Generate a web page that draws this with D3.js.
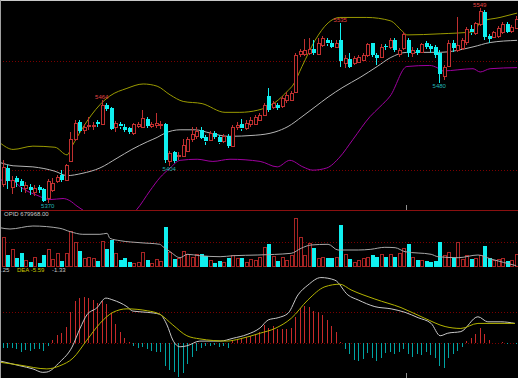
<!DOCTYPE html>
<html>
<head>
<meta charset="utf-8">
<script src="https://cdn.jsdelivr.net/npm/d3@7"></script>
<style>
html, body { margin: 0; padding: 0; background: #000; }
svg { display: block; }
</style>
</head>
<body>
<div id="chart"></div>
<script>
// ---- price bars (futures daily K line) ----
var opens  = [5387,5402,5385,5393,5390,5383,5385,5380,5385,5383,5374,5382,5390,5396,5391,5409,5428,5444,5437,5440,
              5440,5444,5443,5460,5457,5439,5442,5440,5439,5434,5440,5440,5447,5440,5441,5442,5442,5409,5417,5413,
              5413,5418,5428,5431,5437,5430,5428,5434,5430,5426,5431,5423,5439,5442,5438,5442,5443,5446,5451,5468,
              5458,5460,5459,5464,5465,5472,5506,5506,5507,5511,5507,5515,5519,5517,5513,5519,5498,5502,5498,5499,
              5501,5506,5517,5506,5504,5514,5513,5519,5506,5512,5519,5507,5510,5509,5517,5514,5513,5507,5487,5496,
              5517,5510,5512,5517,5529,5526,5534,5545,5523,5522,5523,5527,5534,5527,5531];
var closes = [5403,5390,5391,5389,5385,5386,5382,5384,5382,5372,5390,5388,5394,5391,5405,5429,5443,5436,5440,5441,
              5441,5442,5460,5456,5438,5443,5440,5437,5435,5442,5442,5448,5441,5442,5443,5442,5409,5416,5409,5414,
              5423,5429,5433,5436,5430,5426,5434,5430,5425,5431,5422,5440,5441,5438,5443,5446,5449,5451,5460,5455,
              5462,5457,5466,5469,5471,5506,5509,5510,5511,5507,5517,5521,5516,5513,5517,5500,5503,5495,5503,5504,
              5506,5516,5506,5503,5513,5513,5519,5510,5510,5525,5507,5510,5507,5516,5513,5511,5506,5488,5495,5517,
              5512,5515,5519,5529,5526,5535,5546,5522,5520,5527,5530,5534,5527,5531,5539];
var highs  = [5409,5405,5395,5395,5392,5389,5387,5386,5386,5384,5392,5393,5396,5400,5406,5435,5446,5446,5442,5449,
              5444,5446,5464,5462,5458,5445,5444,5442,5440,5443,5444,5455,5449,5444,5452,5445,5443,5418,5418,5417,
              5429,5430,5440,5440,5440,5432,5436,5436,5432,5433,5433,5441,5444,5447,5446,5449,5451,5452,5462,5475,
              5463,5462,5468,5472,5473,5507,5511,5520,5521,5519,5521,5523,5521,5519,5519,5535,5506,5507,5505,5506,
              5507,5517,5517,5507,5516,5516,5521,5521,5512,5527,5521,5513,5512,5517,5518,5516,5515,5510,5496,5519,
              5519,5540,5521,5531,5533,5536,5549,5547,5525,5528,5532,5536,5536,5533,5541];
var lows   = [5385,5383,5378,5385,5380,5379,5377,5376,5379,5371,5370,5380,5388,5389,5390,5408,5427,5434,5433,5437,
              5437,5440,5442,5454,5437,5435,5438,5435,5433,5432,5439,5439,5439,5439,5439,5438,5407,5404,5407,5409,
              5412,5417,5426,5429,5429,5423,5427,5429,5424,5425,5420,5422,5437,5436,5437,5440,5442,5445,5450,5453,
              5456,5455,5457,5462,5464,5471,5504,5505,5506,5506,5506,5513,5514,5512,5512,5495,5494,5494,5496,5498,
              5500,5504,5504,5496,5503,5510,5511,5508,5504,5510,5504,5504,5506,5507,5511,5507,5503,5480,5483,5495,
              5508,5508,5510,5515,5524,5524,5532,5519,5517,5521,5521,5525,5526,5526,5529];

// volume, thousand lots
var volumes = [29,11.3,17,8,13,6.3,4,9,3,11.3,17,7.3,13,5.3,13,35.3,24,15.3,8,9.6,
               8,5.3,25.3,17.3,26.6,13,6.3,8.6,4,3,4,14.6,6.3,3,7.3,5.3,39.6,14,7.3,8.6,
               15.3,12,9.6,12,12,10.3,6.3,3,5.3,4,8.6,11.3,8.6,8,4,7.3,6.3,9.6,19,22,
               10.3,5.3,9.6,6.3,11.3,48,29,11.3,23,18.6,8.6,9.6,8,8,9.6,41.3,12,7.3,4.6,6.3,
               8.6,9.6,11.3,9.6,12,9.6,12,9.6,13,18.6,22,9.6,6.3,6.3,5.3,4.6,5.3,24,11.3,14.6,
               8.6,24,7.3,11.3,7.3,8,11.3,20.6,8,6.3,7.3,8,5.3,6.3,12];

// MACD histogram
var macdHist = [-1.4,-1.4,-1.6,-1.8,-2.6,-2.1,-2.4,-1.8,-1.8,-2.4,-0.7,1.0,2.6,3.2,5.3,9.8,13.4,14.4,14.7,14.4,
                13.7,12.7,13.4,12.3,9.5,6.0,3.5,1.8,0.3,-0.7,-1.4,-1.1,-1.8,-2.4,-2.8,-2.6,-7.1,-8.4,-9.2,-10.6,
                -9.5,-6.6,-4.2,-2.4,-1.6,-0.7,-0.7,-0.5,-1.1,-0.7,-1.4,1.0,1.4,1.8,2.1,2.4,2.8,3.5,5.8,4.9,
                5.6,4.5,4.5,4.5,4.7,8.4,11.1,11.9,11.6,10.2,9.8,9.0,7.4,5.6,3.7,0.3,-1.8,-3.5,-5.3,-5.6,
                -5.0,-3.2,-4.5,-5.6,-4.5,-3.2,-2.6,-3.5,-2.8,-1.8,-3.5,-4.2,-3.5,-3.7,-2.8,-3.7,-4.5,-7.1,-7.7,-4.7,
                -3.5,-2.4,-1.1,0.7,1.6,2.8,4.9,2.8,1.0,0.1,0.2,0.3,-0.2,0.2,-0.3];

// line studies: [bar position, value]
var bollUpper = [[-0.6,5425],[2.3,5419],[6.7,5422],[11.6,5421],[14.3,5414],[15.4,5422],[17.8,5439],[21.6,5460],
                 [23.8,5468],[27.6,5475],[31.2,5479],[34.3,5477],[37.2,5469],[40.1,5463],[44.3,5461],[49.4,5453],
                 [52.7,5453],[56.7,5455],[60.5,5462],[63.4,5473],[64.5,5478],[66.5,5495],[69.4,5519],[72.3,5535],
                 [74.9,5540],[80.9,5540],[86.1,5537],[88.9,5527],[89.8,5524],[97.2,5525],[104.9,5527],[106.1,5536],
                 [110.5,5540],[114.3,5544]];
var bollMid   = [[-0.6,5407],[2.3,5404],[6.7,5403],[11.6,5399],[14.3,5395],[17.6,5397],[21.6,5402],[25.4,5411],
                 [28.7,5419],[32.1,5426],[34.3,5430],[36.1,5434],[39.4,5437],[42.7,5437],[46.1,5434],[50.1,5431],
                 [56.1,5432],[60.5,5435],[63.4,5440],[66.5,5449],[69.4,5458],[72.3,5467],[75.6,5476],[79.4,5485],
                 [83.2,5495],[86.1,5503],[89.8,5508],[97.2,5508],[104.5,5513],[108.3,5517],[114.3,5519]];
var bollLower = [[-0.6,5391],[2.3,5390],[3.8,5385],[4.9,5382],[7.6,5377],[10.5,5373],[13.4,5374],[14.9,5372],
                 [16.5,5367],[18.3,5362],[22.7,5352],[26.1,5352],[29.8,5364],[32.7,5381],[34.9,5393],[37.2,5402],
                 [39.4,5409],[43.2,5410],[46.7,5408],[50.5,5410],[57.2,5408],[61,5403],[63.8,5409],[66.7,5403],
                 [68.9,5400],[72,5402],[74.9,5412],[77.8,5428],[81.6,5449],[83.8,5458],[86.1,5468],[89.8,5495],
                 [94.9,5496],[96.5,5494],[97.8,5491],[104.5,5493],[106.1,5490],[108.3,5493],[114.3,5494]];
var openInterest = [[-0.6,698950],[1.6,698300],[6.7,699800],[12.7,698650],[15,696950],[17.8,695650],[21.6,695650],
                    [23.2,696150],[23.8,693650],[26.1,692450],[30.5,691450],[34.9,690650],[35.6,689450],[37.2,686950],
                    [39.4,683950],[41,685650],[43.8,684950],[48.3,684450],[51.2,684950],[56.7,685300],[64.1,686150],
                    [66.3,688650],[68.5,690300],[72.3,690650],[74.5,687800],[79,687800],[81.8,688150],[84.9,689150],
                    [87.2,688950],[89.4,686950],[95.2,685650],[96.7,684450],[101.2,683950],[105.6,685300],
                    [108.5,683300],[114.1,679968]];
var dif = [[-0.6,-5.6],[3.8,-7.1],[6.7,-8.1],[8.9,-9.2],[9.8,-9.1],[12.7,-5.9],[15.4,-1.2],[17.2,4.8],[18.7,9.0],
           [20.9,11.2],[22.9,14.3],[24.5,13.7],[27.6,11.6],[28.9,10.2],[32.1,9.8],[34.9,9.2],[36.5,5.8],[37.8,1.0],
           [39.4,-1.1],[40.9,-0.8],[43.8,0.7],[48.3,0.7],[51.2,1.6],[54.3,2.8],[57.2,4.9],[59,7.4],[61.2,8.1],
           [63.4,9.5],[65.6,15.3],[67.8,18.4],[70.7,20.8],[73.8,20.0],[76.7,15.3],[79,13.7],[82.7,11.6],[86.3,10.9],
           [89.4,9.8],[92.3,8.1],[95.2,6.3],[97.2,2.4],[98.9,3.2],[101.8,3.7],[105.6,8.4],[107.8,6.8],[110.7,6.8],
           [113.8,6.3]];
var dea = [[-0.6,-6.0],[3.8,-6.9],[9.8,-8.1],[12.7,-7.1],[15.6,-4.7],[18.7,1.0],[21.6,6.3],[24.5,9.8],[27.6,10.9],
           [32.1,10.3],[34.9,9.2],[37.8,5.8],[40.9,2.4],[43.8,1.4],[49.8,0.7],[52.7,1.4],[57.2,3.2],[60.5,4.7],
           [64.1,7.9],[67.8,13.7],[71.6,17.9],[74.9,18.7],[77.4,16.9],[82.7,14.0],[88.5,11.3],[93.8,7.9],[98.3,5.3],
           [101.8,4.7],[105.6,6.3],[108.5,6.3],[113.8,6.3]];

var peakIdx = [22, 75, 106];
var troughIdx = [10, 37, 97];
var priceGrid = [5400, 5500];
var volGrid = [24];
var macdGrid = [0, 10];
var dayBreak = 89.5;
var oiLabel = 'OPID 679968.00';
var macdLabels = [{t: '.25', c: '#c8c8c8'}, {t: 'DEA -5.59', c: '#c8c800'}, {t: '-1.33', c: '#c8c8c8'}];

var W = 518, H = 378;
var N = opens.length;
var RED = '#c03030', CYAN = '#10f0f0';

var svg = d3.select('#chart').append('svg')
    .attr('width', W).attr('height', H)
    .style('font-family', '"Liberation Sans", Arial, sans-serif');

svg.append('rect').attr('width', W).attr('height', H).attr('fill', '#000');

var x = d3.scaleLinear().domain([0, N - 1]).range([2.75, 515.75]);
var yP = d3.scaleLinear().domain([5363, 5556]).range([210.5, 0]);
var yV = d3.scaleLinear().domain([0, 52]).range([266.3, 214.3]);
var yOI = d3.scaleLinear().domain([679650, 705650]).range([266.3, 214.3]);
var yM = d3.scaleLinear().domain([0, 10]).range([343.3, 311.7]);

var defs = svg.append('defs');
defs.append('clipPath').attr('id', 'clipMain').append('rect').attr('x', 0).attr('y', 0).attr('width', W).attr('height', 210);
defs.append('clipPath').attr('id', 'clipVol').append('rect').attr('x', 0).attr('y', 211).attr('width', W).attr('height', 56);
defs.append('clipPath').attr('id', 'clipMacd').append('rect').attr('x', 0).attr('y', 272).attr('width', W).attr('height', 106);

function cx(i) { return Math.round(x(i)) + 0.5; }

// dotted grid lines
function grid(vals, scale) {
    svg.append('g').selectAll('line').data(vals).enter().append('line')
        .attr('x1', 0).attr('x2', W)
        .attr('y1', function(d) { return Math.round(scale(d)) + 0.5; })
        .attr('y2', function(d) { return Math.round(scale(d)) + 0.5; })
        .attr('stroke', '#7a0000').attr('stroke-width', 1)
        .attr('stroke-dasharray', '1,2');
}
grid(priceGrid, yP);
grid(volGrid, yV);
grid(macdGrid, yM);

// panel separator
svg.append('line').attr('x1', 0).attr('x2', W).attr('y1', 210.5).attr('y2', 210.5)
    .attr('stroke', '#8a1010').attr('stroke-width', 1);

// ---- main panel ----
var main = svg.append('g').attr('clip-path', 'url(#clipMain)');

function bandLine(scale) {
    return d3.line()
        .x(function(d) { return x(d[0]); })
        .y(function(d) { return scale(d[1]); })
        .curve(d3.curveMonotoneX);
}

main.append('path').attr('d', bandLine(yP)(bollUpper)).attr('fill', 'none').attr('stroke', '#9a9a00').attr('stroke-width', 1);
main.append('path').attr('d', bandLine(yP)(bollMid)).attr('fill', 'none').attr('stroke', '#b4b4b4').attr('stroke-width', 1);
main.append('path').attr('d', bandLine(yP)(bollLower)).attr('fill', 'none').attr('stroke', '#a000a0').attr('stroke-width', 1);

var idx = d3.range(N);
var candles = main.append('g').attr('shape-rendering', 'crispEdges');

candles.selectAll('g.k').data(idx).enter().append('g')
    .attr('class', 'k')
    .each(function(i) {
        var g = d3.select(this);
        var up = closes[i] >= opens[i];
        var col = up ? RED : CYAN;
        var top = yP(Math.max(opens[i], closes[i]));
        var bot = yP(Math.min(opens[i], closes[i]));
        var c = cx(i);
        g.append('line').attr('x1', c).attr('x2', c)
            .attr('y1', yP(highs[i])).attr('y2', top).attr('stroke', col);
        g.append('line').attr('x1', c).attr('x2', c)
            .attr('y1', bot).attr('y2', yP(lows[i])).attr('stroke', col);
        if (up) {
            g.append('rect')
                .attr('x', c - 1.5).attr('y', Math.round(top) + 0.5)
                .attr('width', 3).attr('height', Math.max(1, Math.round(bot - top)))
                .attr('fill', '#000').attr('stroke', col).attr('stroke-width', 1);
        } else {
            g.append('rect')
                .attr('x', c - 2).attr('y', Math.round(top))
                .attr('width', 4).attr('height', Math.max(1, Math.round(bot - top)))
                .attr('fill', col);
        }
    });

// extreme labels
main.selectAll('text.hi').data(peakIdx).enter().append('text')
    .attr('class', 'hi')
    .attr('x', function(i) { return x(i); })
    .attr('y', function(i) { return yP(highs[i]) - 1; })
    .attr('text-anchor', 'middle')
    .attr('font-size', '6px')
    .attr('fill', '#e04444')
    .text(function(i) { return highs[i]; });

main.selectAll('text.lo').data(troughIdx).enter().append('text')
    .attr('class', 'lo')
    .attr('x', function(i) { return x(i); })
    .attr('y', function(i) { return yP(lows[i]) + 5.5; })
    .attr('text-anchor', 'middle')
    .attr('font-size', '6px')
    .attr('fill', '#20b4b4')
    .text(function(i) { return lows[i]; });

// ---- volume panel ----
var vol = svg.append('g').attr('clip-path', 'url(#clipVol)').attr('shape-rendering', 'crispEdges');
vol.selectAll('rect').data(idx).enter().append('rect')
    .each(function(i) {
        var up = closes[i] >= opens[i];
        var top = Math.round(yV(volumes[i]));
        var h = Math.round(yV(0)) - top;
        var r = d3.select(this);
        if (up) {
            r.attr('x', cx(i) - 1.5).attr('y', top + 0.5).attr('width', 3).attr('height', h)
             .attr('fill', '#000').attr('stroke', '#a82424').attr('stroke-width', 1);
        } else {
            r.attr('x', cx(i) - 2).attr('y', top).attr('width', 4).attr('height', h + 1)
             .attr('fill', CYAN);
        }
    });

svg.append('path').attr('clip-path', 'url(#clipVol)')
    .attr('d', bandLine(yOI)(openInterest))
    .attr('fill', 'none').attr('stroke', '#a8a8a8').attr('stroke-width', 1);

svg.append('text').attr('x', 4).attr('y', 216)
    .attr('font-size', '6px').attr('fill', '#c8c8c8')
    .text(oiLabel);

// ---- MACD panel ----
var macd = svg.append('g').attr('clip-path', 'url(#clipMacd)');
macd.append('g').attr('shape-rendering', 'crispEdges')
    .selectAll('line').data(idx).enter().append('line')
    .attr('x1', function(i) { return cx(i); })
    .attr('x2', function(i) { return cx(i); })
    .attr('y1', yM(0))
    .attr('y2', function(i) { return yM(macdHist[i]); })
    .attr('stroke', function(i) { return macdHist[i] >= 0 ? '#c82a2a' : '#00a4a4'; })
    .attr('stroke-width', 1);

macd.append('path').attr('d', bandLine(yM)(dif)).attr('fill', 'none').attr('stroke', '#c8c8c8').attr('stroke-width', 1);
macd.append('path').attr('d', bandLine(yM)(dea)).attr('fill', 'none').attr('stroke', '#b4b400').attr('stroke-width', 1);

var lx = [1, 17, 52];
svg.selectAll('text.ml').data(macdLabels).enter().append('text')
    .attr('class', 'ml')
    .attr('x', function(d, i) { return lx[i]; })
    .attr('y', 271.5)
    .attr('font-size', '6px')
    .attr('fill', function(d) { return d.c; })
    .text(function(d) { return d.t; });

// day break ticks
svg.append('line').attr('x1', cx(dayBreak)).attr('x2', cx(dayBreak)).attr('y1', 205).attr('y2', 210)
    .attr('stroke', '#909090');
svg.append('line').attr('x1', cx(dayBreak)).attr('x2', cx(dayBreak)).attr('y1', 373).attr('y2', 378)
    .attr('stroke', '#909090');

// frame
svg.append('line').attr('x1', 0).attr('x2', W).attr('y1', 0.5).attr('y2', 0.5).attr('stroke', '#c8c8c8');
svg.append('line').attr('x1', 0.5).attr('x2', 0.5).attr('y1', 0).attr('y2', H).attr('stroke', '#a0a0a0');
</script>
</body>
</html>
